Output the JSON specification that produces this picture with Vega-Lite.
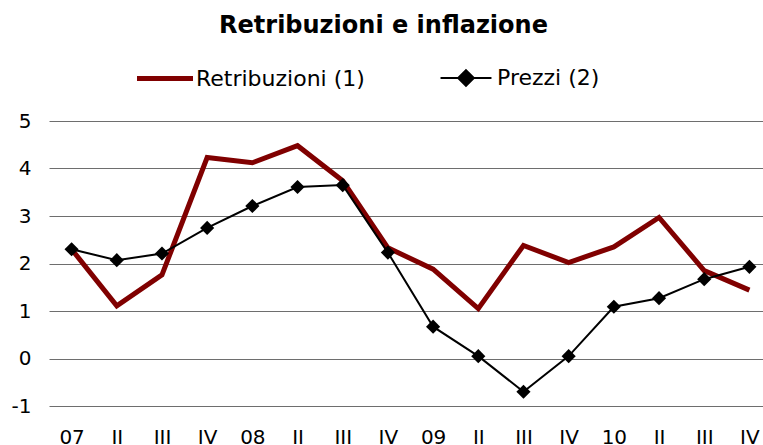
{
  "$schema": "https://vega.github.io/schema/vega-lite/v6.json",
  "autosize": {"type": "none"},
  "padding": {"left": 49, "top": 121, "right": 0, "bottom": 40},
  "width": 723,
  "height": 285,
  "background": "white",
  "title": {
    "text": "Retribuzioni e inflazione",
    "font": "DejaVu Sans",
    "fontSize": 24,
    "fontWeight": "bold",
    "color": "#000000",
    "anchor": "middle",
    "dx": -27,
    "offset": 29
  },
  "config": {
    "view": {"stroke": null},
    "font": "DejaVu Sans"
  },
  "data": {
    "values": [
      {"t": "07_07", "serie": "Retribuzioni (1)", "v": 2.30},
      {"t": "07_II", "serie": "Retribuzioni (1)", "v": 1.11},
      {"t": "07_III", "serie": "Retribuzioni (1)", "v": 1.76},
      {"t": "07_IV", "serie": "Retribuzioni (1)", "v": 4.23},
      {"t": "08_08", "serie": "Retribuzioni (1)", "v": 4.12},
      {"t": "08_II", "serie": "Retribuzioni (1)", "v": 4.48},
      {"t": "08_III", "serie": "Retribuzioni (1)", "v": 3.74},
      {"t": "08_IV", "serie": "Retribuzioni (1)", "v": 2.33},
      {"t": "09_09", "serie": "Retribuzioni (1)", "v": 1.88},
      {"t": "09_II", "serie": "Retribuzioni (1)", "v": 1.05},
      {"t": "09_III", "serie": "Retribuzioni (1)", "v": 2.38},
      {"t": "09_IV", "serie": "Retribuzioni (1)", "v": 2.02},
      {"t": "10_10", "serie": "Retribuzioni (1)", "v": 2.35},
      {"t": "10_II", "serie": "Retribuzioni (1)", "v": 2.97},
      {"t": "10_III", "serie": "Retribuzioni (1)", "v": 1.85},
      {"t": "10_IV", "serie": "Retribuzioni (1)", "v": 1.44},
      {"t": "07_07", "serie": "Prezzi (2)", "v": 2.30},
      {"t": "07_II", "serie": "Prezzi (2)", "v": 2.07},
      {"t": "07_III", "serie": "Prezzi (2)", "v": 2.21},
      {"t": "07_IV", "serie": "Prezzi (2)", "v": 2.75},
      {"t": "08_08", "serie": "Prezzi (2)", "v": 3.21},
      {"t": "08_II", "serie": "Prezzi (2)", "v": 3.61},
      {"t": "08_III", "serie": "Prezzi (2)", "v": 3.65},
      {"t": "08_IV", "serie": "Prezzi (2)", "v": 2.23},
      {"t": "09_09", "serie": "Prezzi (2)", "v": 0.67},
      {"t": "09_II", "serie": "Prezzi (2)", "v": 0.05},
      {"t": "09_III", "serie": "Prezzi (2)", "v": -0.70},
      {"t": "09_IV", "serie": "Prezzi (2)", "v": 0.05},
      {"t": "10_10", "serie": "Prezzi (2)", "v": 1.09},
      {"t": "10_II", "serie": "Prezzi (2)", "v": 1.27},
      {"t": "10_III", "serie": "Prezzi (2)", "v": 1.67},
      {"t": "10_IV", "serie": "Prezzi (2)", "v": 1.93}
    ]
  },
  "encoding": {
    "x": {
      "field": "t",
      "type": "ordinal",
      "sort": null,
      "scale": {"type": "point", "padding": 0.5},
      "axis": {
        "title": null,
        "labelAngle": 0,
        "labelExpr": "split(datum.label, '_')[1]",
        "labelFont": "DejaVu Sans",
        "labelFontSize": 20,
        "labelColor": "#000000",
        "labelPadding": 21,
        "labelOverlap": false,
        "ticks": false,
        "domain": false,
        "grid": false
      }
    },
    "y": {
      "field": "v",
      "type": "quantitative",
      "scale": {"domain": [-1, 5], "nice": false, "zero": false},
      "axis": {
        "title": null,
        "values": [-1, 0, 1, 2, 3, 4, 5],
        "labelExpr": "'' + datum.value",
        "labelFont": "DejaVu Sans",
        "labelFontSize": 20,
        "labelColor": "#000000",
        "labelPadding": 18,
        "ticks": false,
        "domain": false,
        "grid": true,
        "gridColor": "#6e6e6e",
        "gridWidth": 1
      }
    },
    "color": {
      "field": "serie",
      "type": "nominal",
      "scale": {"domain": ["Retribuzioni (1)", "Prezzi (2)"], "range": ["#800000", "#000000"]},
      "legend": {
        "title": null,
        "orient": "none",
        "legendX": 105,
        "legendY": -54,
        "direction": "horizontal",
        "symbolType": "stroke",
        "symbolSize": 3136,
        "symbolStrokeWidth": 5,
        "labelFont": "DejaVu Sans",
        "labelFontSize": 22,
        "labelColor": "#000000",
        "labelOffset": 20,
        "labelLimit": 0,
        "columnPadding": 71,
        "encode": {
          "symbols": {
            "update": {
              "shape": {"signal": "datum.value === 'Prezzi (2)' ? 'M-0.91,0H0.91M0,-0.28L0.28,0L0,0.28L-0.28,0Z' : 'M-1,0H1'"},
              "strokeWidth": {"signal": "datum.value === 'Prezzi (2)' ? 2 : 5"},
              "fill": {"signal": "datum.value === 'Prezzi (2)' ? '#000000' : 'transparent'"},
              "strokeCap": {"value": "butt"}
            }
          }
        }
      }
    }
  },
  "layer": [
    {
      "transform": [{"filter": "datum.serie === 'Retribuzioni (1)'"}],
      "mark": {"type": "line", "strokeWidth": 5, "strokeJoin": "miter"}
    },
    {
      "transform": [{"filter": "datum.serie === 'Prezzi (2)'"}],
      "mark": {"type": "line", "strokeWidth": 2}
    },
    {
      "transform": [{"filter": "datum.serie === 'Prezzi (2)'"}],
      "mark": {"type": "point", "shape": "diamond", "size": 200, "filled": true, "opacity": 1}
    }
  ]
}
